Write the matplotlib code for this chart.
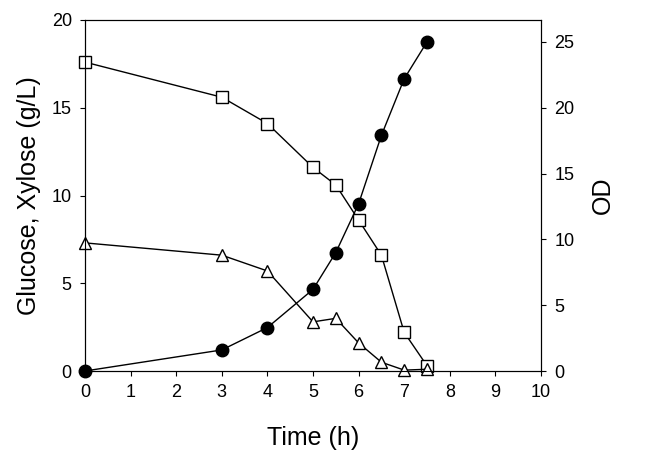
import matplotlib
matplotlib.use("Agg")
import matplotlib.pyplot as plt

time = [0, 3, 4, 5, 5.5, 6, 6.5, 7, 7.5]
glucose = [17.6, 15.6, 14.1, 11.6, 10.6, 8.6, 6.6, 2.2, 0.3]
xylose = [7.3, 6.6, 5.7, 2.8, 3.0, 1.6, 0.5, 0.05, 0.1]
od = [0.0, 1.6, 3.3, 6.2, 9.0, 12.7, 17.9, 22.2, 25.0]

plt.rcParams['font.family'] = ['Liberation Sans', 'DejaVu Sans']
fig = plt.figure(figsize=(6.47, 4.57), dpi=100)
ax = fig.add_axes([85/647, 1-371/457, 456/647, 351/457])
ax.plot(time, glucose, '-s', color='black', mfc='white', ms=9, lw=1, zorder=3, clip_on=False)
ax.plot(time, xylose, '-^', color='black', mfc='white', ms=9, lw=1, zorder=3, clip_on=False)
ax.set_xlim(0, 10); ax.set_ylim(0, 20)
ax.set_xticks(range(0, 11)); ax.set_yticks([0, 5, 10, 15, 20])
ax.set_xlabel('Time (h)', fontsize=18, labelpad=18)
ax.set_ylabel('Glucose, Xylose (g/L)', fontsize=18, labelpad=8)
ax.tick_params(direction='out', labelsize=13, pad=6)
ax2 = ax.twinx()
ax2.plot(time, od, '-o', color='black', ms=9, lw=1, clip_on=False, zorder=3)
ax2.set_ylim(0, 20*4/3)
ax2.set_yticks([0, 5, 10, 15, 20, 25])
ax2.set_ylabel('OD', fontsize=18, labelpad=12)
ax2.tick_params(direction='out', labelsize=13, pad=6)
fig.savefig('out.png', dpi=100)
